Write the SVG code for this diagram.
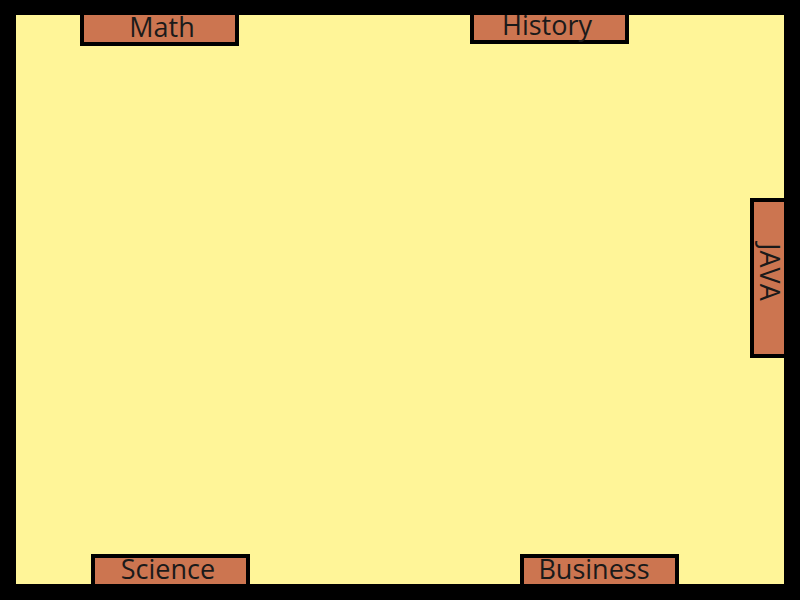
<svg xmlns="http://www.w3.org/2000/svg" width="800" height="600" viewBox="0 0 800 600">
  <style>
    .room { fill: #fff598; }
    .box { fill: #cc7550; stroke: #000; stroke-width: 4; }
    .lbl { font-family: "Open Sans", "Liberation Sans", sans-serif; font-size: 27px; fill: #1a1a1a; text-anchor: middle; }
    .frame { fill: #000; fill-rule: evenodd; }
  </style>
  <rect class="room" x="0" y="0" width="800" height="600"/>
  <g id="math">
    <rect class="box" x="82" y="10" width="155" height="34"/>
    <text class="lbl" x="162" y="37">Math</text>
  </g>
  <g id="history">
    <rect class="box" x="472" y="10" width="155" height="32"/>
    <text class="lbl" x="547" y="35">History</text>
  </g>
  <g id="java">
    <rect class="box" x="752" y="200" width="36" height="156"/>
    <text class="lbl" transform="translate(760 272) rotate(90)" x="0" y="0">JAVA</text>
  </g>
  <g id="science">
    <rect class="box" x="93" y="556" width="155" height="34"/>
    <text class="lbl" x="168" y="579">Science</text>
  </g>
  <g id="business">
    <rect class="box" x="522" y="556" width="155" height="34"/>
    <text class="lbl" x="594" y="579">Business</text>
  </g>
  <path class="frame" d="M0 0H800V600H0Z M16 15V584H784V15Z"/>
  <g id="connectors"/>
</svg>
